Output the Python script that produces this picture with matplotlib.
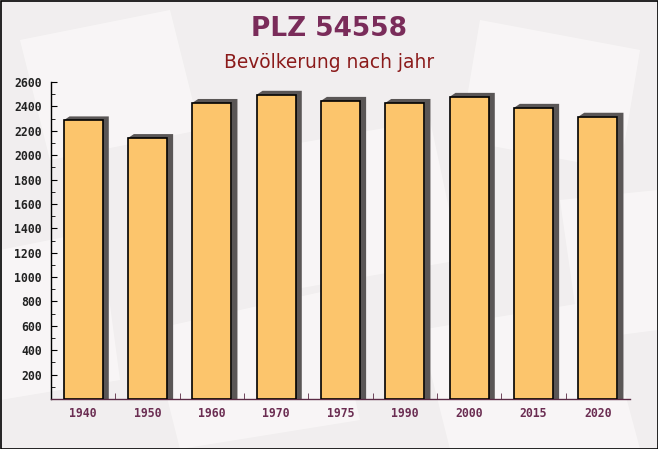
import matplotlib
matplotlib.use("Agg")
import matplotlib.pyplot as plt
from matplotlib.patches import Rectangle, Polygon
from matplotlib.ticker import MultipleLocator, FixedLocator
import numpy as np

years = ["1940", "1950", "1960", "1970", "1975", "1990", "2000", "2015", "2020"]
population = [2285, 2140, 2428, 2495, 2445, 2428, 2478, 2388, 2315]

fig = plt.figure(figsize=(6.58, 4.49), dpi=100)
fig.patch.set_facecolor("#f1eeef")

# faint background shapes (envelope-like pattern)
bg = fig.add_axes([0, 0, 1, 1], zorder=-10)
bg.set_xlim(0, 658); bg.set_ylim(449, 0); bg.axis("off")
shapes = [
    [(20, 40), (170, 10), (200, 130), (50, 160)],
    [(260, 150), (430, 120), (460, 260), (290, 290)],
    [(480, 20), (640, 50), (620, 170), (460, 140)],
    [(150, 330), (330, 290), (360, 420), (180, 449)],
    [(420, 330), (600, 300), (640, 449), (450, 449)],
    [(0, 250), (100, 230), (120, 380), (0, 400)],
    [(560, 200), (658, 190), (658, 330), (580, 340)],
]
for s in shapes:
    bg.add_patch(Polygon(s, closed=True, facecolor="#faf8f8", edgecolor="none", alpha=0.8))
bg.add_patch(Rectangle((0.5, 0.5), 657, 448, fill=False, edgecolor="black", lw=1.2))

ax = fig.add_axes([51/658, 1-399/449, (630-51)/658, (399-82)/449])
ax.set_facecolor("none")
ax.set_xlim(0, len(years))
ax.set_ylim(0, 2600)

x = np.arange(len(years)) + 0.5
w = 0.61
# shadow offset in data units
dx = 6 / (579/len(years))
dy = 4 / (317/2600)
for xi, v in zip(x, population):
    ax.add_patch(Polygon([(xi - w/2, v), (xi - w/2 + dx, v + dy), (xi + w/2 + dx, v + dy),
                          (xi + w/2 + dx, 0), (xi + w/2, 0), (xi + w/2, v)],
                         closed=True, facecolor="#5a5656", edgecolor="none", zorder=2))
ax.bar(x, population, width=w, color="#fcc56c", edgecolor="black", linewidth=1.2, zorder=3)

for sp in ["top", "right"]:
    ax.spines[sp].set_visible(False)
ax.spines["left"].set_color("black")
ax.spines["bottom"].set_color("#5a2a44")
ax.spines["left"].set_linewidth(1)
ax.spines["bottom"].set_linewidth(1)

ax.yaxis.set_major_locator(FixedLocator(range(200, 2601, 200)))
ax.yaxis.set_minor_locator(MultipleLocator(100))
ax.tick_params(axis="y", which="major", length=4, direction="in", color="black",
               labelsize=8.3, pad=6.5)
ax.tick_params(axis="y", which="minor", length=3, direction="in", color="black")
for lab in ax.get_yticklabels():
    lab.set_fontfamily("DejaVu Sans Mono"); lab.set_fontweight("bold"); lab.set_color("#222222")

ax.set_xticks(x)
ax.set_xticklabels(years)
ax.xaxis.set_minor_locator(FixedLocator(np.arange(1, len(years))))
ax.tick_params(axis="x", which="major", length=0, pad=6, labelsize=8.3, labelcolor="#6b2d52")
ax.tick_params(axis="x", which="minor", length=4, direction="in", color="#5a2a44")
for lab in ax.get_xticklabels():
    lab.set_fontfamily("DejaVu Sans Mono"); lab.set_fontweight("bold")

fig.text(0.5, 1-29.5/449, "PLZ 54558", ha="center", va="center", fontsize=19,
         fontweight="bold", color="#7a2c5a", family="DejaVu Sans")
fig.text(0.5, 1-63/449, "Bevölkerung nach jahr", ha="center", va="center", fontsize=13.4,
         color="#8b1a1a", family="DejaVu Sans")

fig.savefig("out.png", dpi=100, facecolor=fig.get_facecolor())
